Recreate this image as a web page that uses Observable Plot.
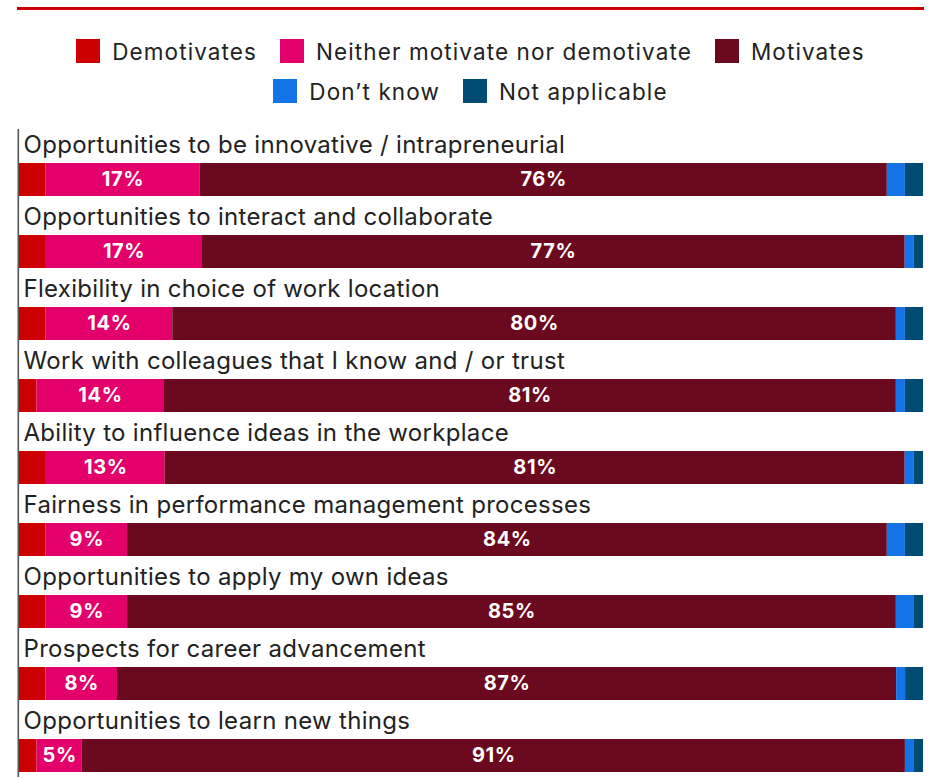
<!DOCTYPE html>
<html>
<head>
<meta charset="utf-8">
<script src="https://cdn.jsdelivr.net/npm/d3@7"></script>
<script src="https://cdn.jsdelivr.net/npm/@observablehq/plot@0.6"></script>
<style>
  html, body { margin: 0; padding: 0; background: #fff; }
  body { font-family: Inter, "Open Sans", sans-serif; color: #222; }
  #wrap { position: relative; width: 931px; height: 779px; overflow: hidden; }
  #topline { position: absolute; left: 17px; top: 7px; width: 907px; height: 2.5px; background: #cc0000; }
  #legend { position: absolute; left: 17px; width: 907px; top: 39px; }
  .lrow { display: flex; justify-content: center; align-items: center; height: 24px; margin-bottom: 16px; }
  .item { display: flex; align-items: center; margin: 0 11.5px; font-size: 22.5px; letter-spacing: 1.1px; white-space: nowrap; }
  .sw { width: 24px; height: 24px; margin-right: 12px; }
  #chart { position: absolute; left: 0; top: 129px; }
  #chart svg g[font-weight="700"] text { letter-spacing: 0.6px; }
  #chart svg g[font-size="24"] text { letter-spacing: 0.3px; }
</style>
</head>
<body>
<div id="wrap">
  <div id="topline"></div>
  <div id="legend"></div>
  <div id="chart"></div>
</div>
<script>
const categories = [
  "Opportunities to be innovative / intrapreneurial",
  "Opportunities to interact and collaborate",
  "Flexibility in choice of work location",
  "Work with colleagues that I know and / or trust",
  "Ability to influence ideas in the workplace",
  "Fairness in performance management processes",
  "Opportunities to apply my own ideas",
  "Prospects for career advancement",
  "Opportunities to learn new things"
];
const series = ["Demotivates", "Neither motivate nor demotivate", "Motivates", "Don\u2019t know", "Not applicable"];
const colors = ["#cc0000", "#e4006a", "#6b0a1e", "#1473e6", "#004b73"];

const demotivates   = [3, 3, 3, 2, 3, 3, 3, 3, 2];
const neither       = [17, 17, 14, 14, 13, 9, 9, 8, 5];
const motivates     = [76, 77, 80, 81, 81, 84, 85, 87, 91];
const dontKnow      = [2, 1, 1, 1, 1, 2, 2, 1, 1];
const notApplicable = [2, 1, 2, 2, 1, 2, 1, 2, 1];
const seriesValues = [demotivates, neither, motivates, dontKnow, notApplicable];
const labelled = ["Neither motivate nor demotivate", "Motivates"];

const rows = [];
categories.forEach((c, i) => {
  series.forEach((s, j) => rows.push({category: c, response: s, value: seriesValues[j][i]}));
});

// legend
const legendRows = [series.slice(0, 3), series.slice(3)];
const legend = document.getElementById("legend");
legendRows.forEach(r => {
  const row = document.createElement("div");
  row.className = "lrow";
  r.forEach(s => {
    const it = document.createElement("div");
    it.className = "item";
    const sw = document.createElement("div");
    sw.className = "sw";
    sw.style.background = colors[series.indexOf(s)];
    const t = document.createElement("span");
    t.textContent = s;
    it.appendChild(sw);
    it.appendChild(t);
    row.appendChild(it);
  });
  legend.appendChild(row);
});

const stackOpts = {x: "value", y: "category", z: "response", order: series, offset: "normalize"};

const chart = Plot.plot({
  width: 931,
  height: 650,
  marginTop: 0,
  marginBottom: 2,
  marginLeft: 18.5,
  marginRight: 8,
  style: {fontFamily: "Inter, 'Open Sans', sans-serif", background: "transparent"},
  x: {domain: [0, 1], axis: null},
  y: {domain: categories, axis: null, padding: 0},
  color: {domain: series, range: colors},
  marks: [
    Plot.barX(rows, Plot.stackX({...stackOpts, fill: "response", insetTop: 34, insetBottom: 5})),
    Plot.text(rows, Plot.stackX({
      ...stackOpts,
      text: d => (labelled.includes(d.response) && d.value >= 5) ? d.value + "%" : null,
      dy: 14.5,
      fill: "white",
      fontWeight: 700,
      fontSize: 20
    })),
    Plot.text(categories, {
      x: 0, y: d => d, text: d => d,
      textAnchor: "start", dx: 4.5, dy: -20,
      fill: "#222", fontSize: 24
    }),
    Plot.ruleX([0], {stroke: "#555", strokeWidth: 1.6, dx: -0.7})
  ]
});
document.getElementById("chart").appendChild(chart);
</script>
</body>
</html>
